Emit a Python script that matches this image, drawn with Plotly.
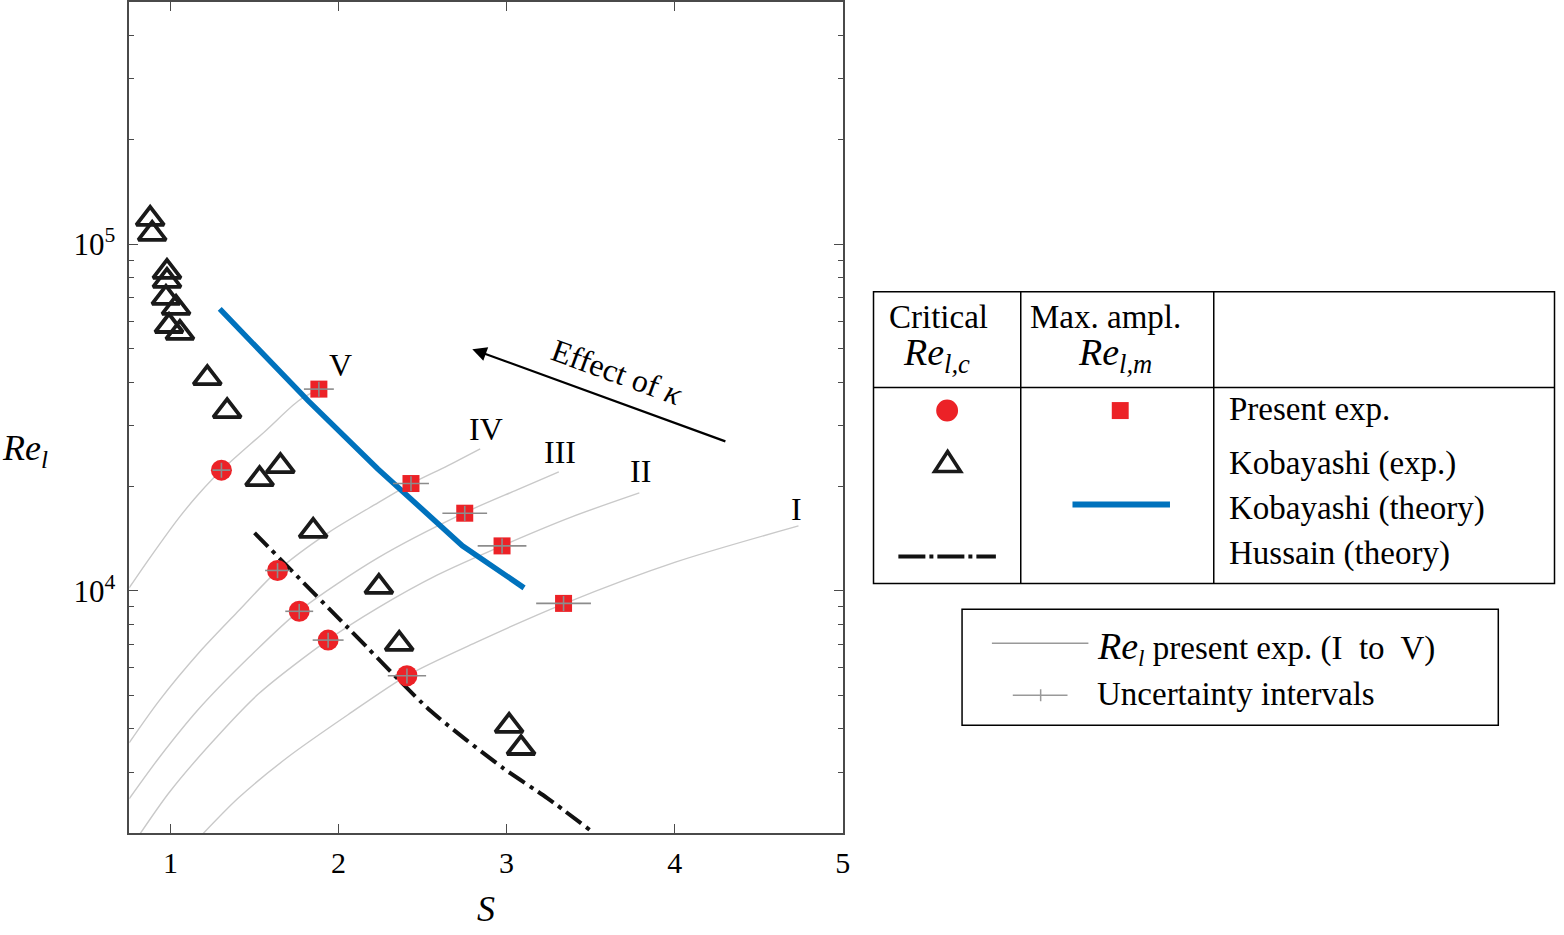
import plotly.graph_objects as go
import numpy as np

# ---------------- data ----------------
# Kobayashi experiments (critical)
kob_S = [0.879, 0.891, 0.979, 0.979, 0.973, 1.033, 0.991, 1.056, 1.219, 1.337,
         1.530, 1.654, 1.849, 2.240, 2.361, 3.015, 3.086]
kob_Re = [118300, 107100, 83200, 78400, 70000, 65500, 58100, 55500, 41100, 33000,
          21000, 22900, 14900, 10270, 7030, 4080, 3520]

# Present experiments, order V, IV, III, II, I
crit_S = [1.303, 1.637, 1.766, 1.938, 2.407]
crit_Re = [22300, 11450, 8730, 7210, 5690]
crit_dS = [0.053, 0.074, 0.083, 0.092, 0.114]

max_S = [1.883, 2.431, 2.751, 2.973, 3.339]
max_Re = [38200, 20400, 16750, 13480, 9200]
max_dS = [0.089, 0.107, 0.133, 0.145, 0.163]

re_uncert_pct = 5

# Kobayashi theory
kobth_S = [1.293, 1.820, 2.234, 2.737, 3.104]
kobth_Re = [65070, 35320, 22480, 13490, 10200]

# Hussain theory
hus_S = [1.500, 2.056, 2.547, 2.985, 3.240, 3.494]
hus_Re = [14700, 7825, 4507, 3066, 2529, 2045]

# Re_l curves of present experiments I..V
curve_I_S = [1.186, 1.405, 1.701, 2.056, 2.405, 2.825, 3.340, 4.009, 4.737]
curve_I_Re = [1975, 2529, 3321, 4390, 5686, 7126, 9173, 12120, 15400]
curve_II_S = [0.814, 0.991, 1.228, 1.524, 1.938, 2.234, 2.589, 2.973, 3.388, 3.790]
curve_II_Re = [1975, 2615, 3573, 5045, 7222, 8933, 11120, 13490, 16350, 19170]
curve_III_S = [0.754, 0.932, 1.169, 1.464, 1.766, 2.234, 2.749, 3.062, 3.311]
curve_III_Re = [2512, 3299, 4567, 6410, 8757, 12450, 16790, 19560, 22030]
curve_IV_S = [0.754, 0.932, 1.169, 1.405, 1.636, 1.938, 2.234, 2.429, 2.648, 2.843]
curve_IV_Re = [3645, 4816, 6627, 8757, 11420, 14700, 17940, 20350, 22940, 25680]
curve_V_S = [0.754, 0.873, 1.050, 1.169, 1.305, 1.565, 1.760, 1.885]
curve_V_Re = [10200, 12370, 16240, 19050, 22340, 28940, 35300, 38240]

curve_labels = ["I", "II", "III", "IV", "V"]
label_S = [4.725, 3.799, 3.317, 2.879, 2.009]
label_Re = [17240, 22190, 25180, 29320, 44870]

y_ticks = [1e4, 1e5]
y_ticktext = ["10<sup>4</sup>", "10<sup>5</sup>"]
x_ticks = [1, 2, 3, 4, 5]

# ---------------- styling ----------------
FONT = "Liberation Serif"
RED = "#ec2227"
BLUE = "#0072bd"
GRAY_CURVE = "#c9c9c9"
GRAY_ERR = "#8c8c8c"
W, H = 1564, 935

fig = go.Figure()

curves = [(curve_I_S, curve_I_Re), (curve_II_S, curve_II_Re), (curve_III_S, curve_III_Re),
          (curve_IV_S, curve_IV_Re), (curve_V_S, curve_V_Re)]
for cs, cr in curves:
    fig.add_trace(go.Scatter(x=cs, y=cr, mode="lines", line=dict(color=GRAY_CURVE, width=1.4,
                                                                 shape="spline", smoothing=0.8),
                             hoverinfo="skip"))

fig.add_trace(go.Scatter(x=kobth_S, y=kobth_Re, mode="lines",
                         line=dict(color=BLUE, width=5.5)))
fig.add_trace(go.Scatter(x=hus_S, y=hus_Re, mode="lines",
                         line=dict(color="#111111", width=4, dash="19px,6px,4px,6px",
                                   shape="spline", smoothing=0.6)))

fig.add_trace(go.Scatter(x=kob_S, y=kob_Re, mode="markers",
                         marker=dict(symbol="triangle-up-open", size=24, color="#1a1a1a",
                                     line=dict(width=3.8, color="#1a1a1a"))))

fig.add_trace(go.Scatter(x=crit_S, y=crit_Re, mode="markers",
                         marker=dict(symbol="circle", size=21, color=RED, line=dict(width=0))))
fig.add_trace(go.Scatter(x=max_S, y=max_Re, mode="markers",
                         marker=dict(symbol="square", size=17, color=RED, line=dict(width=0))))

# uncertainty crosses drawn on top of markers
for xs, ys, dxs in [(crit_S, crit_Re, crit_dS), (max_S, max_Re, max_dS)]:
    fig.add_trace(go.Scatter(
        x=xs, y=ys, mode="markers", marker=dict(size=2, opacity=0),
        error_x=dict(type="data", array=dxs, visible=True, color=GRAY_ERR, thickness=1.6, width=0),
        error_y=dict(type="percent", value=re_uncert_pct, visible=True, color=GRAY_ERR,
                     thickness=1.6, width=0)))

# ---------------- axes ----------------
x0p, x1p = 130, 847
y0p, y1p = 1, 833
axis_col = "#4a4a4a"
fig.update_layout(
    width=W, height=H, margin=dict(l=0, r=0, t=0, b=0),
    paper_bgcolor="white", plot_bgcolor="white", showlegend=False,
    font=dict(family=FONT, color="black", size=30),
    xaxis=dict(domain=[x0p / W, x1p / W], range=[0.755, 5.0], tickvals=x_ticks,
               ticks="inside", ticklen=9, tickwidth=1.3, tickcolor=axis_col,
               showline=True, linecolor=axis_col, linewidth=1.5, mirror="ticks",
               showgrid=False, zeroline=False, tickfont=dict(size=30, family=FONT),
               ticklabelstandoff=2),
    yaxis=dict(domain=[1 - y1p / H, 1 - y0p / H], type="log",
               range=[np.log10(2000), np.log10(5e5)], tickvals=y_ticks, ticktext=y_ticktext,
               ticks="inside", ticklen=9, tickwidth=1.3, tickcolor=axis_col,
               showline=True, linecolor=axis_col, linewidth=1.5, mirror="ticks",
               showgrid=False, zeroline=False, tickfont=dict(size=31, family=FONT),
               ticklabelstandoff=6,
               minor=dict(tickmode="array",
                          tickvals=[3e3, 4e3, 5e3, 6e3, 7e3, 8e3, 9e3,
                                    2e4, 3e4, 4e4, 5e4, 6e4, 7e4, 8e4, 9e4,
                                    2e5, 3e5, 4e5, 5e5],
                          ticks="inside", ticklen=5, tickwidth=1.2, tickcolor=axis_col)),
)

ann = []
# curve labels (data coordinates; log axis uses log10)
for t, s, r in zip(curve_labels, label_S, label_Re):
    ann.append(dict(x=s, y=np.log10(r), xref="x", yref="y", text=t, showarrow=False,
                    font=dict(size=32, family=FONT), xanchor="center", yanchor="middle"))

# Effect of kappa arrow
ann.append(dict(x=2.796, y=np.log10(49800), ax=4.311, ay=np.log10(26900), xref="x", yref="y",
                axref="x", ayref="y", text="", showarrow=True, arrowhead=2, arrowsize=1.3,
                arrowwidth=2.2, arrowcolor="black"))
ann.append(dict(x=3.658, y=np.log10(42900), xref="x", yref="y",
                text="Effect of <i>κ</i>", showarrow=False, textangle=20,
                xanchor="center", yanchor="middle",
                font=dict(size=32, family=FONT)))


def P(px):
    return px / W


def Q(py):
    return 1 - py / H


# axis titles
ann.append(dict(x=P(488), y=Q(909), xref="paper", yref="paper", text="<i>S</i>",
                showarrow=False, xanchor="center", yanchor="middle",
                font=dict(size=36, family=FONT)))
ann.append(dict(x=P(0), y=Q(450), xref="paper", yref="paper",
                text="<i>Re</i><sub><i>l</i></sub>", showarrow=False, xanchor="left",
                yanchor="middle", font=dict(size=36, family=FONT)))

# legend table texts
LF = 33
ann.append(dict(x=P(943), y=Q(316), xref="paper", yref="paper", text="Critical",
                showarrow=False, xanchor="center", yanchor="middle",
                font=dict(size=LF, family=FONT)))
ann.append(dict(x=P(906), y=Q(354), xref="paper", yref="paper",
                text="<i>Re</i><sub><i>l,c</i></sub>", showarrow=False, xanchor="left",
                yanchor="middle", font=dict(size=38, family=FONT)))
ann.append(dict(x=P(1111), y=Q(316), xref="paper", yref="paper", text="Max. ampl.",
                showarrow=False, xanchor="center", yanchor="middle",
                font=dict(size=LF, family=FONT)))
ann.append(dict(x=P(1082), y=Q(354), xref="paper", yref="paper",
                text="<i>Re</i><sub><i>l,m</i></sub>", showarrow=False, xanchor="left",
                yanchor="middle", font=dict(size=38, family=FONT)))
for txt, yy in [("Present exp.", 408), ("Kobayashi (exp.)", 463),
                ("Kobayashi (theory)", 508), ("Hussain (theory)", 553)]:
    ann.append(dict(x=P(1233), y=Q(yy), xref="paper", yref="paper", text=txt,
                    showarrow=False, xanchor="left", yanchor="middle",
                    font=dict(size=LF, family=FONT)))
ann.append(dict(x=P(1101), y=Q(648), xref="paper", yref="paper",
                text="<i><span style='font-size:38px'>Re</span></i><sub><i>l</i></sub> present exp. (I\u00a0 to\u00a0 V)",
                showarrow=False, xanchor="left", yanchor="middle",
                font=dict(size=LF, family=FONT)))
ann.append(dict(x=P(1101), y=Q(694), xref="paper", yref="paper", text="Uncertainty intervals",
                showarrow=False, xanchor="left", yanchor="middle",
                font=dict(size=LF, family=FONT)))
fig.update_layout(annotations=ann)

shapes = []


def line(x0, y0, x1, y1, color="black", width=1.5, dash=None):
    d = dict(type="line", xref="paper", yref="paper", x0=P(x0), y0=Q(y0), x1=P(x1), y1=Q(y1),
             line=dict(color=color, width=width))
    if dash:
        d["line"]["dash"] = dash
    return d


# table
shapes.append(dict(type="rect", xref="paper", yref="paper", x0=P(878), y0=Q(291), x1=P(1562.5),
                   y1=Q(583), line=dict(color="black", width=1.5)))
shapes.append(line(1026, 291, 1026, 583))
shapes.append(line(1220, 291, 1220, 583))
shapes.append(line(878, 387, 1562.5, 387))
# legend samples
shapes.append(dict(type="circle", xref="paper", yref="paper", x0=P(941), x1=P(963),
                   y0=Q(399), y1=Q(421), fillcolor=RED, line=dict(width=0)))
shapes.append(dict(type="rect", xref="paper", yref="paper", x0=P(1117.5), x1=P(1134.5),
                   y0=Q(401.5), y1=Q(418.5), fillcolor=RED, line=dict(width=0)))
tri = "M {} {} L {} {} L {} {} Z".format(P(939.5), Q(471), P(965.5), Q(471), P(952.5), Q(451))
shapes.append(dict(type="path", xref="paper", yref="paper", path=tri,
                   line=dict(color="#1a1a1a", width=3.6)))
shapes.append(line(1078, 504, 1176, 504, color=BLUE, width=6))
shapes.append(line(903, 556, 1001, 556, color="#111111", width=4, dash="27px,4px,4px,4px"))
# second box
shapes.append(dict(type="rect", xref="paper", yref="paper", x0=P(967), y0=Q(609), x1=P(1506),
                   y1=Q(725), line=dict(color="black", width=1.5)))
shapes.append(line(997, 643, 1094, 643, color="#999999", width=1.5))
shapes.append(line(1018, 695, 1073, 695, color="#999999", width=1.5))
shapes.append(line(1046, 689, 1046, 701, color="#999999", width=1.5))
fig.update_layout(shapes=shapes)

fig.write_html("out.html", config={"displayModeBar": False},
               post_script="document.body.style.margin='0px';document.body.style.padding='0px';"
                           "document.documentElement.style.overflow='hidden';")
